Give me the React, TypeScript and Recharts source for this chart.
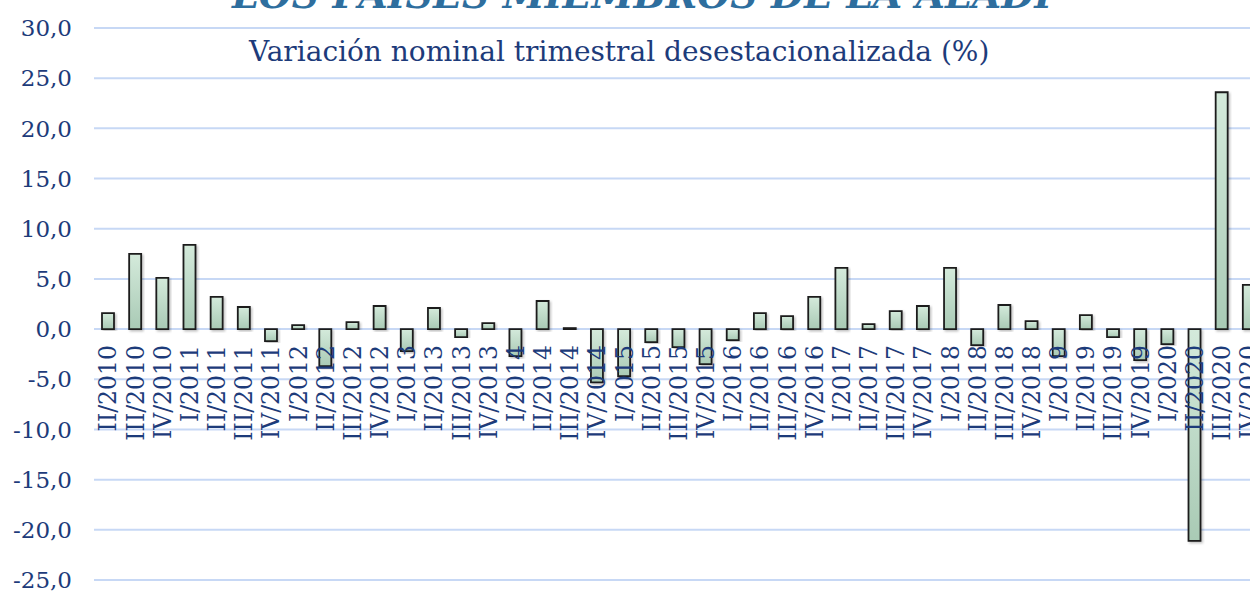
import React from "react"
import { Bar, BarChart, CartesianGrid, LabelList, XAxis, YAxis } from "recharts"

const quarters = [
  "II/2010", "III/2010", "IV/2010",
  "I/2011", "II/2011", "III/2011", "IV/2011",
  "I/2012", "II/2012", "III/2012", "IV/2012",
  "I/2013", "II/2013", "III/2013", "IV/2013",
  "I/2014", "II/2014", "III/2014", "IV/2014",
  "I/2015", "II/2015", "III/2015", "IV/2015",
  "I/2016", "II/2016", "III/2016", "IV/2016",
  "I/2017", "II/2017", "III/2017", "IV/2017",
  "I/2018", "II/2018", "III/2018", "IV/2018",
  "I/2019", "II/2019", "III/2019", "IV/2019",
  "I/2020", "II/2020", "III/2020", "IV/2020",
]

const variation = [
  1.6, 7.5, 5.1,
  8.4, 3.2, 2.2, -1.2,
  0.4, -3.7, 0.7, 2.3,
  -2.2, 2.1, -0.8, 0.6,
  -2.7, 2.8, 0.1, -5.3,
  -4.7, -1.3, -1.8, -3.5,
  -1.1, 1.6, 1.3, 3.2,
  6.1, 0.5, 1.8, 2.3,
  6.1, -1.6, 2.4, 0.8,
  -2.7, 1.4, -0.8, -3.1,
  -1.5, -21.1, 23.6, 4.4,
]

const yTicks = [30, 25, 20, 15, 10, 5, 0, -5, -10, -15, -20, -25]

const title = "LOS PAÍSES MIEMBROS DE LA ALADI"
const subtitle = "Variación nominal trimestral desestacionalizada (%)"

const data = quarters.map((name, i) => ({ name, value: variation[i] }))

const navy = "#1d3b7a"
const serif = "'DejaVu Serif', serif"

const fmt = (v: number) => v.toFixed(1).replace(".", ",")

// quarter labels sit just under the zero line, read from bottom to top
const QuarterLabel = (props: any) => {
  const vb = props.viewBox ?? props
  const { x, y, width, height } = vb
  const v = variation[props.index] ?? 0
  const zeroY = v >= 0 ? Math.max(y, y + height) : Math.min(y, y + height)
  const cx = x + width / 2
  return (
    <text
      transform={`translate(${cx},${zeroY + 16}) rotate(-90)`}
      textAnchor="end"
      dy="0.36em"
      fill={navy}
      fontFamily={serif}
      fontSize={23.5}
    >
      {props.value}
    </text>
  )
}

export default function App() {
  return (
    <div
      style={{
        position: "fixed",
        left: 0,
        top: 0,
        width: 1250,
        height: 592,
        overflow: "hidden",
        background: "#fff",
      }}
    >
      <BarChart width={1262} height={592} data={data} margin={{ top: 28, right: 0, bottom: 12, left: 0 }}>
        <defs>
          <linearGradient id="barFill" x1="0" y1="0" x2="0" y2="1">
            <stop offset="0%" stopColor="#d4eadb" />
            <stop offset="100%" stopColor="#a9cab5" />
          </linearGradient>
          <filter id="barShadow" x="-30%" y="-10%" width="160%" height="120%">
            <feDropShadow dx="1.5" dy="1.5" stdDeviation="1.2" floodColor="#000" floodOpacity="0.25" />
          </filter>
        </defs>
        <CartesianGrid vertical={false} stroke="#c7d8f5" strokeWidth={2} />
        <XAxis dataKey="name" hide />
        <YAxis
          width={94}
          domain={[-25, 30]}
          ticks={yTicks}
          interval={0}
          tickFormatter={fmt}
          axisLine={false}
          tickLine={false}
          tickSize={0}
          tickMargin={22}
          tick={{ fill: navy, fontFamily: serif, fontSize: 23 }}
        />
        <Bar
          dataKey="value"
          barSize={12}
          fill="url(#barFill)"
          stroke="#1e1e1e"
          strokeWidth={1.8}
          filter="url(#barShadow)"
          isAnimationActive={false}
        >
          <LabelList dataKey="name" content={QuarterLabel} />
        </Bar>
      </BarChart>
      <svg
        width={1250}
        height={592}
        style={{ position: "absolute", left: 0, top: 0, pointerEvents: "none" }}
      >
        <text
          x={642}
          y={8}
          textAnchor="middle"
          fill="#2e6e9e"
          fontFamily={serif}
          fontWeight="bold"
          fontStyle="italic"
          fontSize={38}
        >
          {title}
        </text>
        <text x={249} y={61} fill={navy} fontFamily={serif} fontSize={28}>
          {subtitle}
        </text>
      </svg>
    </div>
  )
}
